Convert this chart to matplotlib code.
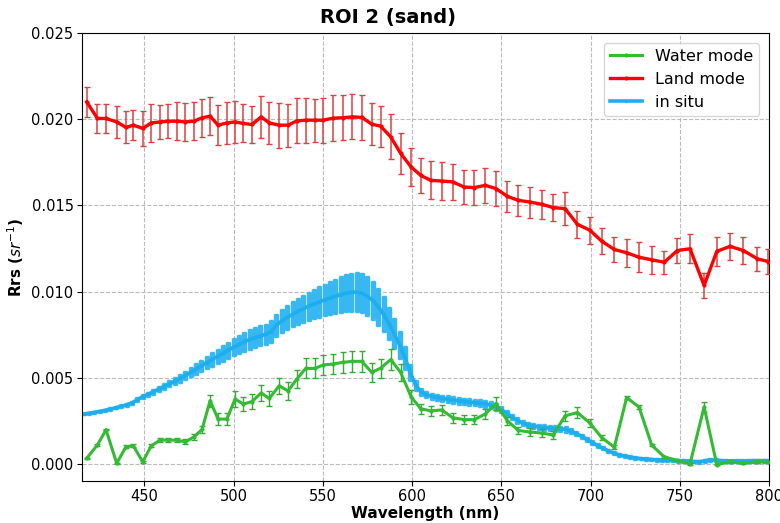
import matplotlib
matplotlib.use("Agg")
import matplotlib.pyplot as plt

# band centres of the satellite product (nm)
bands = [417.7, 423.7, 428.5, 434.5, 439.7, 443.8, 449.1, 453.8, 458.8, 463.4,
         468.2, 473.0, 477.8, 482.3, 486.8, 491.3, 496.2, 500.8, 505.5, 510.3,
         515.4, 520.0, 525.5, 530.5, 535.4, 540.4, 545.5, 550.3, 555.9, 561.1,
         566.5, 571.8, 577.4, 582.4, 588.0, 593.6, 599.4, 604.8, 610.4, 616.6,
         622.8, 629.1, 634.9, 641.0, 647.0, 653.4, 659.5, 666.1, 672.6, 679.1,
         685.7, 692.6, 699.7, 706.2, 713.3, 720.2, 727.1, 734.3, 741.3, 748.6,
         755.7, 763.6, 770.7, 778.1, 785.6, 793.4, 799.5]

water = [0.00033, 0.00110, 0.00198, 0.00004, 0.00099, 0.00105, 0.00012, 0.00105, 0.00138, 0.00138,
         0.00138, 0.00128, 0.00157, 0.00200, 0.00366, 0.00260, 0.00260, 0.00376, 0.00347, 0.00362,
         0.00411, 0.00380, 0.00453, 0.00424, 0.00492, 0.00554, 0.00554, 0.00574, 0.00580, 0.00589,
         0.00595, 0.00595, 0.00531, 0.00556, 0.00605, 0.00531, 0.00390, 0.00320, 0.00308, 0.00313,
         0.00268, 0.00257, 0.00257, 0.00290, 0.00350, 0.00250, 0.00194, 0.00185, 0.00179, 0.00168,
         0.00279, 0.00298, 0.00236, 0.00153, 0.00097, 0.00385, 0.00330, 0.00108, 0.00041, 0.00020,
         0.00000, 0.00331, -0.00004, 0.00013, 0.00003, 0.00013, 0.00010]
water_err = [0.00004, 0.00004, 0.00004, 0.00004, 0.00008, 0.00008, 0.00004, 0.00008, 0.00012, 0.00012,
             0.00012, 0.00015, 0.00018, 0.00022, 0.00035, 0.00035, 0.00035, 0.00045, 0.00042, 0.00046,
             0.00048, 0.00044, 0.00048, 0.00052, 0.00050, 0.00058, 0.00058, 0.00060, 0.00060, 0.00062,
             0.00062, 0.00062, 0.00055, 0.00055, 0.00060, 0.00050, 0.00040, 0.00030, 0.00030, 0.00030,
             0.00030, 0.00028, 0.00028, 0.00030, 0.00040, 0.00025, 0.00022, 0.00022, 0.00022, 0.00022,
             0.00030, 0.00030, 0.00022, 0.00012, 0.00010, 0.00010, 0.00010, 0.00006, 0.00005, 0.00005,
             0.00005, 0.00030, 0.00005, 0.00005, 0.00005, 0.00005, 0.00005]

land = [0.02100, 0.02004, 0.02004, 0.01984, 0.01952, 0.01965, 0.01946, 0.01978, 0.01984, 0.01988,
        0.01988, 0.01984, 0.01988, 0.02008, 0.02017, 0.01965, 0.01978, 0.01984, 0.01975, 0.01969,
        0.02013, 0.01978, 0.01965, 0.01965, 0.01990, 0.01994, 0.01994, 0.01994, 0.02006, 0.02008,
        0.02013, 0.02010, 0.01971, 0.01959, 0.01897, 0.01801, 0.01723, 0.01674, 0.01645, 0.01641,
        0.01636, 0.01606, 0.01603, 0.01616, 0.01597, 0.01552, 0.01529, 0.01519, 0.01506, 0.01487,
        0.01481, 0.01390, 0.01355, 0.01292, 0.01244, 0.01225, 0.01199, 0.01184, 0.01170, 0.01238,
        0.01248, 0.01035, 0.01233, 0.01262, 0.01238, 0.01190, 0.01174]
land_err = [0.00087, 0.00083, 0.00085, 0.00091, 0.00093, 0.00087, 0.00104, 0.00110, 0.00100, 0.00100,
            0.00110, 0.00110, 0.00110, 0.00110, 0.00110, 0.00116, 0.00120, 0.00120, 0.00110, 0.00110,
            0.00120, 0.00120, 0.00130, 0.00125, 0.00130, 0.00130, 0.00125, 0.00130, 0.00135, 0.00130,
            0.00130, 0.00130, 0.00120, 0.00120, 0.00130, 0.00120, 0.00110, 0.00100, 0.00110, 0.00110,
            0.00105, 0.00100, 0.00100, 0.00100, 0.00100, 0.00090, 0.00090, 0.00090, 0.00085, 0.00080,
            0.00095, 0.00080, 0.00080, 0.00075, 0.00070, 0.00080, 0.00087, 0.00080, 0.00066, 0.00075,
            0.00085, 0.00070, 0.00085, 0.00078, 0.00078, 0.00070, 0.00070]

# in situ radiometer, resampled every 3 nm
insitu_wl = list(range(416, 801, 3))
insitu = [0.00290, 0.00294, 0.00299, 0.00305, 0.00311, 0.00318, 0.00326, 0.00334, 0.00343, 0.00354,
          0.00372, 0.00390, 0.00404, 0.00418, 0.00434, 0.00449, 0.00464, 0.00480, 0.00496, 0.00513,
          0.00532, 0.00550, 0.00569, 0.00588, 0.00606, 0.00624, 0.00642, 0.00660, 0.00677, 0.00693,
          0.00709, 0.00722, 0.00733, 0.00743, 0.00752, 0.00768, 0.00805, 0.00830, 0.00850, 0.00868,
          0.00885, 0.00900, 0.00915, 0.00928, 0.00940, 0.00952, 0.00962, 0.00972, 0.00982, 0.00990,
          0.00996, 0.00997, 0.00990, 0.00972, 0.00948, 0.00912, 0.00868, 0.00815, 0.00755, 0.00690,
          0.00615, 0.00530, 0.00455, 0.00418, 0.00402, 0.00392, 0.00386, 0.00380, 0.00375, 0.00370,
          0.00366, 0.00362, 0.00359, 0.00356, 0.00352, 0.00348, 0.00342, 0.00330, 0.00314, 0.00294,
          0.00272, 0.00252, 0.00237, 0.00227, 0.00220, 0.00215, 0.00211, 0.00208, 0.00205, 0.00203,
          0.00200, 0.00190, 0.00176, 0.00160, 0.00142, 0.00124, 0.00106, 0.00090, 0.00076, 0.00063,
          0.00053, 0.00045, 0.00039, 0.00035, 0.00031, 0.00028, 0.00026, 0.00024, 0.00022, 0.00021,
          0.00020, 0.00019, 0.00018, 0.00017, 0.00014, 0.00013, 0.00018, 0.00024, 0.00022, 0.00019,
          0.00018, 0.00018, 0.00018, 0.00018, 0.00018, 0.00019, 0.00019, 0.00019, 0.00019]
insitu_err = [0.00008, 0.00008, 0.00008, 0.00009, 0.00009, 0.00010, 0.00010, 0.00011, 0.00012, 0.00013,
              0.00014, 0.00015, 0.00016, 0.00017, 0.00018, 0.00019, 0.00020, 0.00022, 0.00024, 0.00027,
              0.00030, 0.00033, 0.00036, 0.00039, 0.00042, 0.00045, 0.00048, 0.00050, 0.00052, 0.00055,
              0.00057, 0.00059, 0.00060, 0.00061, 0.00062, 0.00064, 0.00067, 0.00070, 0.00073, 0.00076,
              0.00079, 0.00082, 0.00085, 0.00088, 0.00091, 0.00094, 0.00098, 0.00102, 0.00106, 0.00110,
              0.00114, 0.00116, 0.00117, 0.00116, 0.00114, 0.00110, 0.00105, 0.00098, 0.00090, 0.00080,
              0.00068, 0.00050, 0.00032, 0.00024, 0.00022, 0.00022, 0.00022, 0.00022, 0.00022, 0.00022,
              0.00022, 0.00022, 0.00022, 0.00022, 0.00022, 0.00022, 0.00022, 0.00022, 0.00021, 0.00020,
              0.00019, 0.00018, 0.00018, 0.00018, 0.00018, 0.00018, 0.00018, 0.00018, 0.00018, 0.00018,
              0.00018, 0.00017, 0.00016, 0.00015, 0.00014, 0.00013, 0.00013, 0.00012, 0.00012, 0.00012,
              0.00011, 0.00011, 0.00011, 0.00011, 0.00011, 0.00011, 0.00011, 0.00011, 0.00011, 0.00011,
              0.00011, 0.00011, 0.00011, 0.00011, 0.00011, 0.00011, 0.00011, 0.00011, 0.00011, 0.00011,
              0.00011, 0.00011, 0.00011, 0.00011, 0.00011, 0.00011, 0.00011, 0.00011, 0.00011]

GREEN = '#33bb33'
RED = '#ff0000'
BLUE = '#1daeef'

fig, ax = plt.subplots(figsize=(7.8, 5.23), dpi=100)
fig.subplots_adjust(left=0.105, right=0.986, top=0.937, bottom=0.08)

e_situ = ax.errorbar(insitu_wl, insitu, yerr=insitu_err, color=BLUE, ecolor='#38b8f2',
                     lw=2.6, elinewidth=3.9, capsize=1.5, capthick=1,
                     marker='.', ms=3, label='in situ', zorder=2)
e_land = ax.errorbar(bands, land, yerr=land_err, color=RED, ecolor='#dc4040',
                     lw=2.4, elinewidth=1.1, capsize=2.5, capthick=1,
                     marker='.', ms=4, label='Land mode', zorder=3)
e_water = ax.errorbar(bands, water, yerr=water_err, color=GREEN, ecolor='#3aa83a',
                      lw=2.2, elinewidth=1.0, capsize=2.5, capthick=1,
                      marker='.', ms=4, label='Water mode', zorder=4)

ax.set_xlim(415, 800)
ax.set_ylim(-0.001, 0.025)
ax.set_xticks(range(450, 801, 50))
ax.set_yticks([0.000, 0.005, 0.010, 0.015, 0.020, 0.025])
ax.yaxis.set_major_formatter(matplotlib.ticker.FormatStrFormatter('%.3f'))
ax.tick_params(labelsize=10.5, pad=2.5)
ax.grid(True, linestyle='--', color='#bbbbbb', linewidth=0.8)

fig.suptitle('ROI 2 (sand)', fontsize=14, fontweight='bold', x=0.497, y=0.985)
ax.set_xlabel('Wavelength (nm)', fontsize=11, fontweight='bold', labelpad=1)
ax.set_ylabel(r'Rrs ($sr^{-1}$)', fontsize=11, fontweight='bold', labelpad=4)

# legend shows only the lines, not the error bars
ax.legend([e_water[0], e_land[0], e_situ[0]], ['Water mode', 'Land mode', 'in situ'],
          loc='upper right', fontsize=11.5, borderaxespad=0.6)

fig.savefig('out.png')
